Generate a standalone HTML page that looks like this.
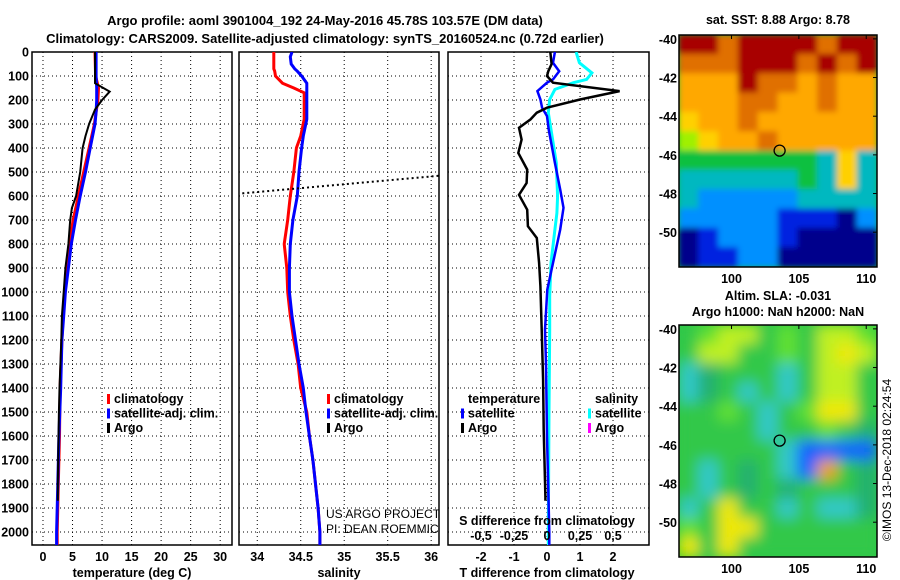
<!DOCTYPE html>
<html><head><meta charset="utf-8"><style>
html,body{margin:0;padding:0;background:#fff;}
svg{display:block;font-family:"Liberation Sans",Arial,sans-serif;}
.b{font-weight:bold;font-size:13px;}
.t{font-weight:bold;font-size:12.5px;}
</style></head><body>
<svg id="fig" width="900" height="580" viewBox="0 0 900 580">
<defs>
<clipPath id="c1"><rect x="32" y="52" width="200" height="493"/></clipPath>
<clipPath id="c2"><rect x="239" y="52" width="200" height="493"/></clipPath>
<clipPath id="c3"><rect x="448" y="52" width="201" height="493"/></clipPath>
<clipPath id="cm1"><rect x="679" y="35" width="198" height="232"/></clipPath>
<clipPath id="cm2"><rect x="679" y="325" width="198" height="232"/></clipPath>
<filter id="blur1"><feGaussianBlur stdDeviation="3"/></filter>
<filter id="blur2"><feGaussianBlur stdDeviation="7"/></filter>
</defs>
<text x="325" y="25" text-anchor="middle" class="b">Argo profile: aoml 3901004_192 24-May-2016 45.78S 103.57E (DM data)</text>
<text x="325" y="43" text-anchor="middle" class="b">Climatology: CARS2009. Satellite-adjusted climatology: synTS_20160524.nc (0.72d earlier)</text>
<g id="layer"></g>
</svg>
<script>
// ---- data ----
const depthTicks = [0,100,200,300,400,500,600,700,800,900,1000,1100,1200,1300,1400,1500,1600,1700,1800,1900,2000];
const tempTickLabels = [0,5,10,15,20,25,30];
const salTickLabels = [34,34.5,35,35.5,36];
const tdiffTickLabels = [-2,-1,0,1,2];
const sdiffTickLabels = [-0.5,-0.25,0,0.25,0.5];

const climDepth = [0,100,150,200,250,300,400,500,600,700,800,900,1000,1100,1200,1400,1600,1800,2000,2054];
const climTemp  = [8.8,8.9,9.4,9.3,9.0,8.7,7.8,6.9,6.0,5.1,4.5,4.1,3.7,3.4,3.2,2.9,2.8,2.6,2.4,2.4];
const satTemp   = [9.0,9.0,9.1,9.1,9.0,8.8,8.0,7.2,6.3,5.5,4.8,4.3,3.8,3.5,3.2,3.0,2.7,2.5,2.3,2.3];

const argoDepth = [0,100,130,165,200,240,300,350,400,500,600,650,700,800,900,1000,1100,1200,1400,1500,1800,1870];
const argoTemp  = [8.8,8.8,8.8,11.3,10.0,8.8,7.8,7.2,6.7,6.3,5.6,4.9,4.6,4.3,3.8,3.5,3.2,3.1,2.8,2.7,2.5,2.5];

const salDepth = [0,20,50,70,80,100,130,150,170,200,280,350,400,500,600,700,800,900,1000,1100,1200,1300,1400,1500,1600,1700,1800,1900,2000,2054];
const climSal  = [34.19,34.19,34.19,34.19,34.20,34.21,34.29,34.42,34.54,34.54,34.54,34.50,34.45,34.42,34.38,34.35,34.31,34.34,34.35,34.38,34.42,34.47,34.50,34.57,34.60,34.64,34.67,34.70,34.72,34.72];
const satSal   = [34.40,34.38,34.39,34.43,34.46,34.51,34.57,34.57,34.57,34.57,34.57,34.53,34.51,34.48,34.46,34.41,34.38,34.37,34.37,34.40,34.44,34.48,34.53,34.56,34.60,34.64,34.67,34.70,34.72,34.72];
const argoSalDepth = [591,512];
const argoSal = [33.77,36.2];

const tdDepth = [0,50,80,100,128,163,198,232,253,281,316,365,421,490,546,595,657,726,775,879,976,1157,1367,1575,1854,1870];
const argoTdiff = [0.1,0.14,0.04,0,0.18,2.2,1.0,0,-0.31,-0.5,-0.85,-0.77,-0.87,-0.6,-0.62,-0.85,-0.6,-0.58,-0.31,-0.24,-0.2,-0.16,-0.12,-0.1,-0.05,-0.05];
const satDepth = [0,45,80,114,128,163,198,232,267,323,462,573,649,740,879,990,1157,1300,1600,2000,2054];
const satTdiff = [0.24,0.18,0.37,0.18,0,-0.29,-0.2,-0.15,0,0.05,0.24,0.4,0.5,0.4,0.18,0.01,-0.06,-0.03,0,0.07,0.07];
const sdDepth = [0,45,87,114,128,156,198,253,323,462,601,671,740,879,1018,1157,1500,2000,2054];
const satSdiff = [0.22,0.245,0.34,0.30,0.2,0.06,0.02,0.01,0.03,0.07,0.08,0.075,0.06,0.03,0.02,0.02,0.015,0.01,0.01];

const lonTicks = [100,105,110];
const latTicks = [-40,-42,-44,-46,-48,-50];
const sstRows = ["9989999899","8889998989","7779887877","7778877877","6778777777","5677877777","4444444363","3333334363","3222223333","2222211102","0122210000","0112200000"];
const slaRows = ["glyyglgyyl","gyygglgyYy","abgggagyyg","abgagagyyg","gglgaglYYg","ggggagglgb","gggggaBBBB","gagbgaBogb","gagbgbgggb","agYggagaab","lgYYgggggg","YgYggggggg"];
const floatLon = 103.57, floatLat = -45.78;

// ---- helpers ----
const NS="http://www.w3.org/2000/svg";
const layer=document.getElementById('layer');
function mk(tag,attrs,parent){const e=document.createElementNS(NS,tag);for(const k in attrs)e.setAttribute(k,attrs[k]);(parent||layer).appendChild(e);return e;}
const Y0=52, YS=0.24, YB=545;
const yD=d=>Y0+YS*d;
function lin(d0,d1,r0,r1){return v=>r0+(v-d0)/(d1-d0)*(r1-r0);}
const x1=lin(-1.86,32,32,232);
const x2=lin(33.79,36.09,239,439);
const x3=lin(-3,3.09,448,649);
const x3s=v=>x3(v*4);

function panel(x0,x1p,xf,ticks,clip,name){
  const g=mk('g',{});
  
  
  for(const d of depthTicks){ if(d===0)continue;
    const l=mk('line',{x1:x0,x2:x1p,y1:yD(d),y2:yD(d),stroke:'#000','stroke-width':1,'stroke-dasharray':'1,3'},g);
    
    
  }
  for(const t of ticks){
    const l=mk('line',{x1:xf(t),x2:xf(t),y1:Y0,y2:YB,stroke:'#000','stroke-width':1,'stroke-dasharray':'1,3'},g);
    
    
  }
  const r=mk('rect',{x:x0,y:Y0,width:x1p-x0,height:YB-Y0,fill:'none',stroke:'#000','stroke-width':1.5},g);
  
  
  return g;
}
panel(32,232,x1,tempTickLabels,'c1','temperature-panel');
panel(239,439,x2,salTickLabels,'c2','salinity-panel');
panel(448,649,x3,tdiffTickLabels,'c3','difference-panel');

function series(xs,ds,xf,color,w,clip,name,dash){
  const pts=xs.map((v,i)=>xf(v).toFixed(1)+','+yD(ds[i]).toFixed(1)).join(' ');
  const p=mk('polyline',{points:pts,fill:'none',stroke:color,'stroke-width':w,'clip-path':'url(#'+clip+')','stroke-linejoin':'miter'});
  if(dash)p.setAttribute('stroke-dasharray',dash);
  
  
}
series(climTemp,climDepth,x1,'#ff0000',3,'c1','climatology-temperature-line');
series(satTemp,climDepth,x1,'#0000ff',3,'c1','satellite-temperature-line');
series(argoTemp,argoDepth,x1,'#000',2,'c1','argo-temperature-line');
series(climSal,salDepth,x2,'#ff0000',3,'c2','climatology-salinity-line');
series(satSal,salDepth,x2,'#0000ff',3,'c2','satellite-salinity-line');
series(argoSal,argoSalDepth,x2,'#000',2,'c2','argo-salinity-line','2,3');
series(satSdiff,sdDepth,x3s,'#00ffff',3,'c3','satellite-salinity-diff-line');
series(satTdiff,satDepth,x3,'#0000ff',2.5,'c3','satellite-temperature-diff-line');
series(argoTdiff,tdDepth,x3,'#000',2.5,'c3','argo-temperature-diff-line');

function txt(x,y,s,cls,anchor,name,extra){
  const t=mk('text',Object.assign({x:x,y:y,'text-anchor':anchor||'start'},extra||{}));
  if(cls)t.setAttribute('class',cls);
  t.textContent=s;
  
  
  return t;
}
for(const d of depthTicks) txt(29,yD(d)+4.5,String(d),'t','end','depth-tick-label');
for(const t of tempTickLabels) txt(x1(t),561,String(t),'t','middle','temperature-tick-label');
for(const t of salTickLabels) txt(x2(t),561,String(t),'t','middle','salinity-tick-label');
for(const t of tdiffTickLabels) txt(x3(t),561,String(t),'t','middle','tdiff-tick-label');
for(const t of sdiffTickLabels) txt(x3s(t),540,String(t).replace('.',','),'t','middle','sdiff-tick-label');
txt(132,577,'temperature (deg C)','t','middle','x-axis-title-temperature');
txt(339,577,'salinity','t','middle','x-axis-title-salinity');
txt(547,577,'T difference from climatology','t','middle','x-axis-title-tdiff');
txt(547,525,'S difference from climatology','t','middle','x-axis-title-sdiff');
txt(326,518,'US ARGO PROJECT','', 'start','credit-project',{'font-size':'12px','clip-path':'url(#c2)'});
txt(326,533,'PI: DEAN ROEMMICH','', 'start','credit-pi',{'font-size':'12px','clip-path':'url(#c2)'});

function legend(x,y,items,name){
  const g=mk('g',{});
  
  
  items.forEach((it,i)=>{
    const yy=y+i*14.5;
    if(it[1]){const r=mk('rect',{x:x,y:yy-9,width:3,height:10,fill:it[1]},g);
      
      }
    const t=mk('text',{x:x+7,y:yy,'class':'t'},g);
    t.textContent=it[0];
    
    
  });
}
legend(107,403,[['climatology','#ff0000'],['satellite-adj. clim.','#0000ff'],['Argo','#000']],'temperature-legend');
legend(327,403,[['climatology','#ff0000'],['satellite-adj. clim.','#0000ff'],['Argo','#000']],'salinity-legend');
legend(461,403,[['temperature',null],['satellite','#0000ff'],['Argo','#000']],'tdiff-legend');
legend(588,403,[['salinity',null],['satellite','#00ffff'],['Argo','#ff00ff']],'sdiff-legend');

// ---- maps ----
const lonX=lin(96.1,110.8,679,877);
const latY1=lin(-39.8,-51.8,35,267);
const latY2=v=>latY1(v)+290;
const sstPal={'0':'#00008c','1':'#0020e0','2':'#0090ff','3':'#00b8c0','4':'#10c040','5':'#a0f000','6':'#ffd000','7':'#ffa800','8':'#e07000','9':'#a80000'};
const slaPal={a:'#30c8c8',b:'#20b070',g:'#30c848',l:'#60e030',y:'#c0f020',Y:'#f0e800',o:'#f0a000',B:'#1060ff'};
function heat(rows,pal,top,clip,filt,name){
  const g=mk('g',{'clip-path':'url(#'+clip+')'});
  
  
  const bg=mk('rect',{x:679,y:top,width:198,height:232,fill:pal[rows[6][4]]},g);
  
  
  const inner=mk('g',{filter:'url(#'+filt+')'},g);
  const cw=198/rows[0].length, ch=232/rows.length;
  rows.forEach((r,i)=>{[...r].forEach((c,j)=>{
    const cell=mk('rect',{x:679+j*cw-0.5,y:top+i*ch-0.5,width:cw+1,height:ch+1,fill:pal[c]},inner);
    
    
  });});
  const fr=mk('rect',{x:679,y:top,width:198,height:232,fill:'none',stroke:'#000','stroke-width':1.5});
  
  
}
heat(sstRows,sstPal,35,'cm1','blur1','sst-map');
heat(slaRows,slaPal,325,'cm2','blur2','sla-map');
[[latY1,283,'sst',35],[latY2,573,'sla',325]].forEach(([ly,by,n,top])=>{
  for(const la of latTicks){
    txt(677,ly(la)+5,String(la),'t','end',n+'-lat-tick-label');
    const tk=mk('line',{x1:877,x2:873,y1:ly(la),y2:ly(la),stroke:'#000'});
    
    
  }
  for(const lo of lonTicks){
    txt(lonX(lo),by,String(lo),'t','middle',n+'-lon-tick-label');
    const tk=mk('line',{x1:lonX(lo),x2:lonX(lo),y1:top,y2:top+4,stroke:'#000'});
    
    
  }
  const c=mk('circle',{cx:lonX(floatLon),cy:ly(floatLat),r:5.5,fill:'none',stroke:'#000','stroke-width':1.3});
  
  
});
txt(778,24,'sat. SST: 8.88 Argo: 8.78','t','middle','sst-map-title');
txt(778,300,'Altim. SLA: -0.031','t','middle','sla-map-title');
txt(778,316,'Argo h1000: NaN h2000: NaN','t','middle','sla-map-subtitle');
txt(0,0,'©IMOS 13-Dec-2018 02:24:54','','middle','imos-stamp',{'font-size':'12px',transform:'translate(891,460) rotate(-90)'});
</script>
</body></html>
